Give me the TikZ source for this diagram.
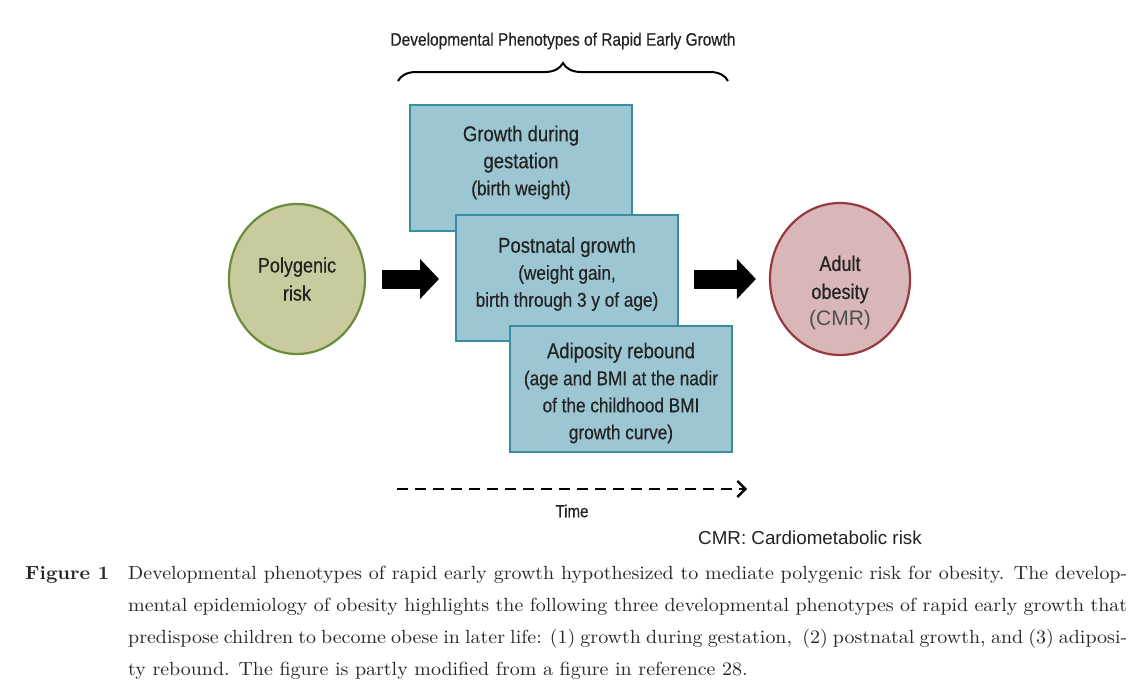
\documentclass[tikz,border=0pt]{standalone}
\usepackage{fontspec}
\usetikzlibrary{arrows.meta,decorations.pathreplacing,shapes.geometric}
\newfontfamily\cond[FakeStretch=0.86,FakeBold=0.4]{Liberation Sans}
\newfontfamily\plainsans{Liberation Sans}
\newfontfamily\capfont[FakeStretch=1.05,BoldFont=lmroman10-bold.otf,BoldFeatures={FakeStretch=1.05}]{lmroman10-regular.otf}
\definecolor{boxfill}{HTML}{9CC7D2}
\definecolor{boxline}{HTML}{3A8CA3}
\definecolor{polyfill}{HTML}{C9CB9F}
\definecolor{polyline}{HTML}{6B8C3A}
\definecolor{obfill}{HTML}{D9B7B8}
\definecolor{obline}{HTML}{963A42}
\definecolor{txt}{HTML}{222222}
\begin{document}
\begin{tikzpicture}[x=1pt,y=-1pt,
  phen/.style={draw=boxline, fill=boxfill, line width=2pt, minimum width=222pt,
    minimum height=126pt, inner sep=0pt},
  boxtxt/.style={align=center, text=txt, inner sep=0pt,
    font=\cond\fontsize{21.5}{27}\selectfont},
  circ/.style={ellipse, line width=2.2pt, inner sep=0pt, align=center, text=txt,
    font=\cond\fontsize{21}{28}\selectfont},
  bigarrow/.style={line width=19pt, -{Triangle[length=19pt,width=39pt]}},
  lbl/.style={text=txt, inner sep=0pt}
]
\useasboundingbox (0,0) rectangle (1147,693);
\fill[white] (0,0) rectangle (1147,693);

% title and brace
\node[lbl, font=\cond\fontsize{18}{20}\selectfont] (title) at (563,41) {Developmental Phenotypes of Rapid Early Growth};
\coordinate (brL) at (398,81);
\coordinate (brR) at (728,81);
\draw[decorate, decoration={brace, amplitude=18pt}, line width=2pt] (brL) -- (brR);

% ellipses
\node[circ, draw=polyline, fill=polyfill, minimum width=136pt, minimum height=150pt] (poly) at (297,279) {Polygenic\\risk};
\node[ellipse, draw=obline, fill=obfill, line width=2.2pt, minimum width=140pt, minimum height=152pt] (adult) at (840,279) {};
\node[lbl, align=center, font=\cond\fontsize{21}{28}\selectfont] (adulttxt) at ([yshift=-14pt]adult.center)
  {Adult\\obesity\\[-1pt]{\plainsans\color{txt!80}\fontsize{21}{24}\selectfont(CMR)}};

% boxes
\node[phen] (b1) at (521,168) {};
\node[boxtxt] (b1t) at ([yshift=5.5pt]b1.center) {Growth during\\gestation\\{\fontsize{20}{27}\selectfont(birth weight)}};
\node[phen] (b2) at (567,278) {};
\node[boxtxt] (b2t) at ([yshift=4pt]b2.center) {Postnatal growth\\{\fontsize{20}{27}\selectfont(weight gain,}\\{\fontsize{20}{27}\selectfont birth through 3 y of age)}};
\node[phen] (b3) at (621,389) {};
\node[boxtxt] (b3t) at ([yshift=-4pt]b3.center) {Adiposity rebound\\{\fontsize{20}{26}\selectfont(age and BMI at the nadir}\\{\fontsize{20}{26}\selectfont of the childhood BMI}\\{\fontsize{20}{26}\selectfont growth curve)}};

% block arrows
\draw[bigarrow, shorten <=16pt, shorten >=16pt] (poly.east) -- (poly.east -| b2.west);
\draw[bigarrow, shorten <=15pt, shorten >=13pt] (b2.east |- adult.west) -- (adult.west);

% time arrow
\coordinate (t0) at (397,489);
\coordinate (t1) at (747,489);
\draw[line width=2.6pt, dash pattern=on 11pt off 7pt, -{Straight Barb[length=8pt,width=16pt,line width=2.4pt]}] (t0) -- (t1);
\node[lbl, font=\cond\fontsize{17.5}{20}\selectfont] (time) at (572,511) {Time};
\node[lbl, font=\plainsans\fontsize{18.8}{20}\selectfont, anchor=west] (cmr) at (698,538) {CMR: Cardiometabolic risk};

% caption
\node[lbl, anchor=north west, font=\capfont\bfseries\fontsize{19}{32}\selectfont, text=black!85] (fig) at (25,566) {Figure 1};
\node[lbl, anchor=north west, align=left, text=black!85, font=\capfont\fontsize{19}{32}\selectfont] (cap) at (128,566)
 {\makebox[999pt][s]{Developmental phenotypes of rapid early growth hypothesized to mediate polygenic risk for obesity. The develop-}\\
  \makebox[999pt][s]{mental epidemiology of obesity highlights the following three developmental phenotypes of rapid early growth that}\\
  \makebox[999pt][s]{predispose children to become obese in later life: (1) growth during gestation,\ \ (2) postnatal growth, and (3) adiposi-}\\
  ty rebound. The figure is partly modified from a figure in reference 28.};
\end{tikzpicture}
\end{document}
